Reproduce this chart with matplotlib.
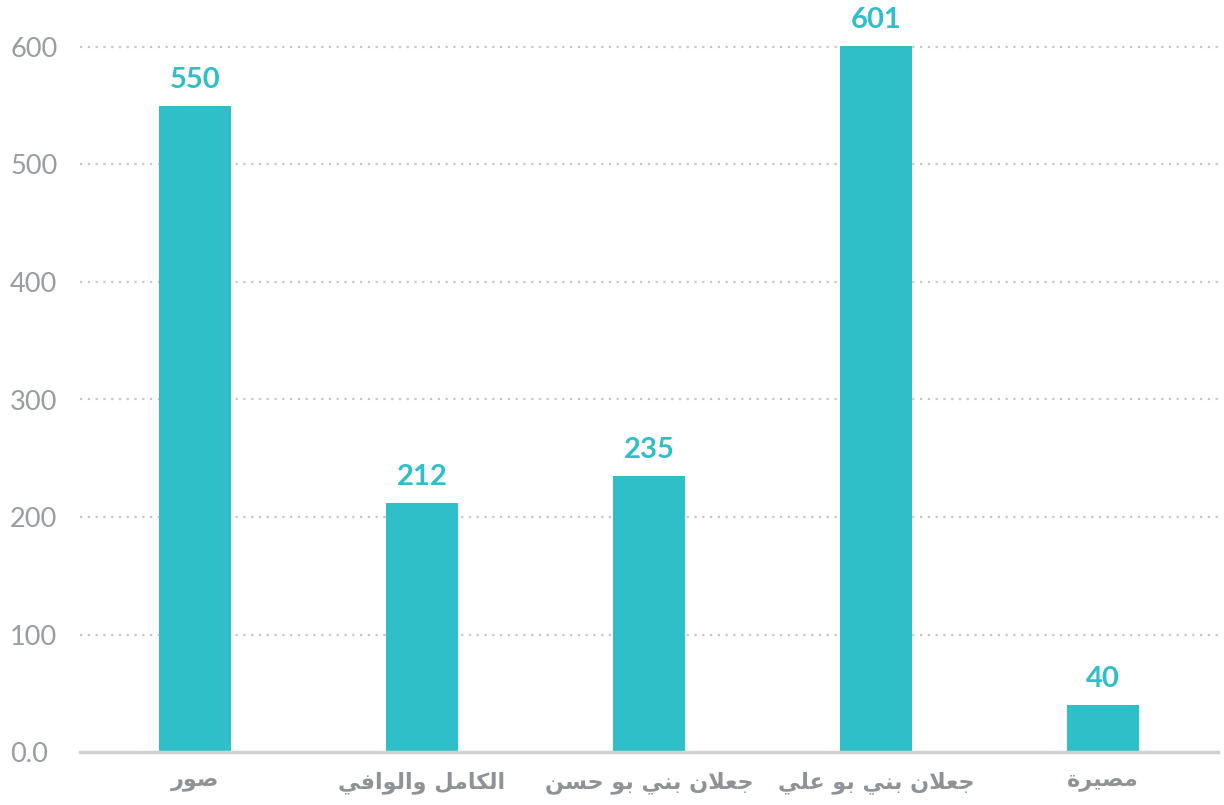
import matplotlib
matplotlib.use("Agg")
import matplotlib.pyplot as plt

categories = ["صور", "الكامل والوافي", "جعلان بني بو حسن", "جعلان بني بو علي", "مصيرة"]
values = [550, 212, 235, 601, 40]
yticks = [0, 100, 200, 300, 400, 500, 600]
ytick_labels = ["0.0", "100", "200", "300", "400", "500", "600"]

# Simple Arabic shaping (matplotlib has no complex text layout)
ISO = {
    "ا": (0xFE8D, False), "ب": (0xFE8F, True), "ة": (0xFE93, False), "ج": (0xFE9D, True),
    "ح": (0xFEA1, True), "ر": (0xFEAD, False), "س": (0xFEB1, True), "ص": (0xFEB9, True),
    "ع": (0xFEC9, True), "ف": (0xFED1, True), "ك": (0xFED9, True), "ل": (0xFEDD, True),
    "م": (0xFEE1, True), "ن": (0xFEE5, True), "و": (0xFEED, False), "ي": (0xFEF1, True),
}


def shape(text):
    chars = list(text)
    tokens = []
    i = 0
    while i < len(chars):
        if chars[i] == "ل" and i + 1 < len(chars) and chars[i + 1] == "ا":
            tokens.append("LA")
            i += 2
        else:
            tokens.append(chars[i])
            i += 1

    def info(t):
        if t == "LA":
            return (0xFEFB, False)
        return ISO.get(t)

    out = []
    for k, t in enumerate(tokens):
        inf = info(t)
        if inf is None:
            out.append(t)
            continue
        base, dual = inf
        prev = info(tokens[k - 1]) if k > 0 else None
        nxt = info(tokens[k + 1]) if k + 1 < len(tokens) else None
        join_prev = prev is not None and prev[1]
        join_next = dual and nxt is not None
        if join_prev and join_next:
            code = base + 3
        elif join_prev:
            code = base + 1
        elif join_next:
            code = base + 2
        else:
            code = base
        out.append(chr(code))
    return "".join(out)[::-1]


teal = "#2EBFC8"
grey_tick = "#999ca1"
grey_lab = "#8e9398"

fig = plt.figure(figsize=(12.24, 8.05), dpi=100)
ax = fig.add_axes([80 / 1224, 53 / 805, 1138 / 1224, 752 / 805])

x = list(range(len(categories)))
ax.bar(x, values, width=0.317, color=teal, zorder=3)
for xi, v in zip(x, values):
    ax.text(xi, v + 11, str(v), ha="center", va="bottom", color=teal,
            fontsize=21, fontweight="bold", family="Lato", zorder=4)

ax.set_xlim(-0.507, 4.507)
ax.set_ylim(0, 640)
ax.set_yticks(yticks)
ax.set_yticklabels(ytick_labels)
ax.set_xticks(x)
ax.set_xticklabels([shape(c) for c in categories])

for lab in ax.get_yticklabels():
    lab.set_family("Lato")
    lab.set_fontsize(19.5)
    lab.set_fontweight("normal")
    lab.set_color(grey_tick)
    lab.set_horizontalalignment("left")
for lab in ax.get_xticklabels():
    lab.set_family("DejaVu Sans")
    lab.set_fontsize(16)
    lab.set_fontweight("bold")
    lab.set_color(grey_lab)

ax.tick_params(axis="y", length=0, pad=70 * 0.72)
ax.tick_params(axis="x", length=0, pad=14)

for y in yticks[1:]:
    ax.axhline(y, color="#c6c6c6", linestyle=(0, (1, 2.5)), linewidth=1.6, zorder=1)

for s in ["top", "right", "left"]:
    ax.spines[s].set_visible(False)
ax.spines["bottom"].set_color("#d2d2d2")
ax.spines["bottom"].set_linewidth(2.5)
ax.spines["bottom"].set_zorder(5)

fig.savefig("out.png", dpi=100)
